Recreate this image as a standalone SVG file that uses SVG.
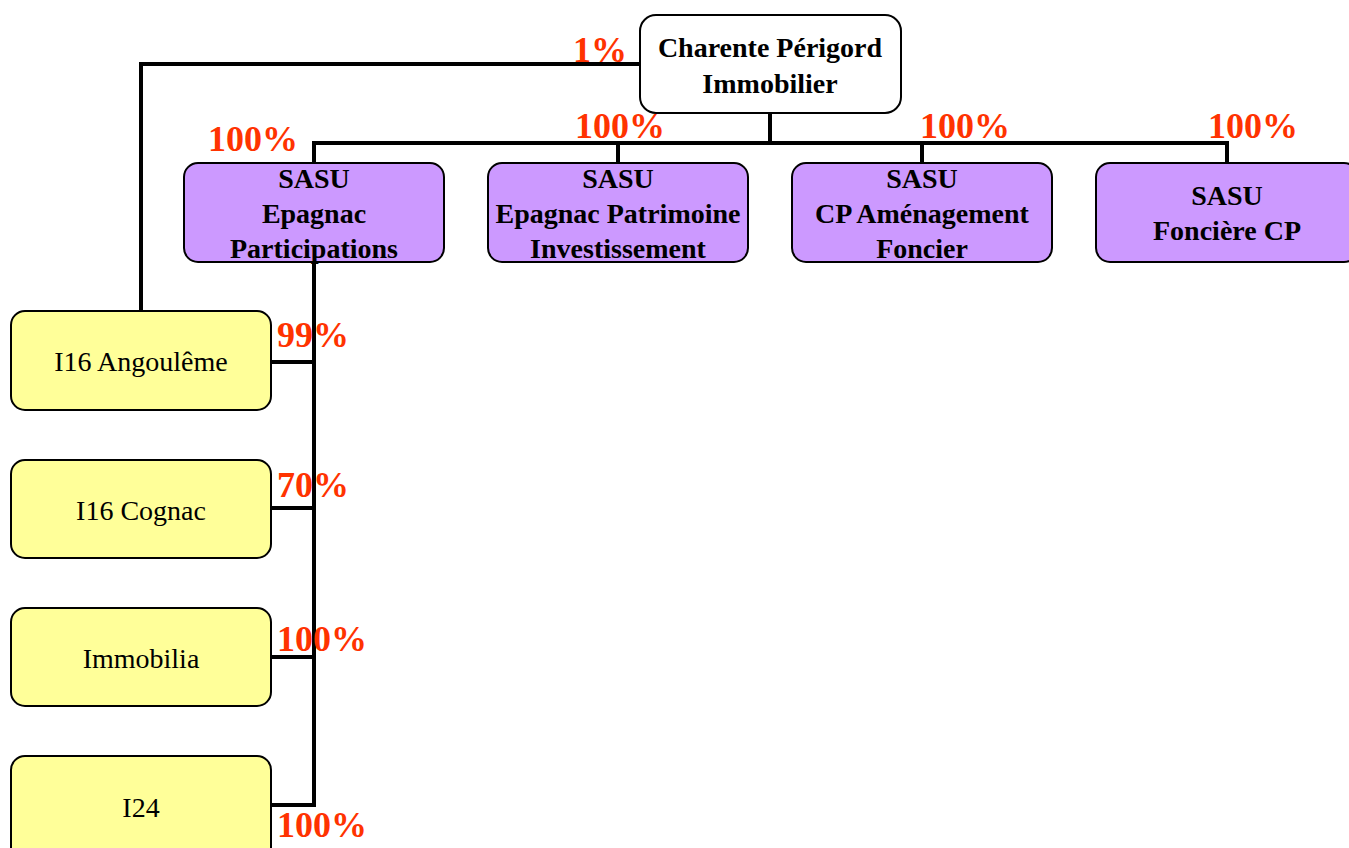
<svg xmlns="http://www.w3.org/2000/svg" width="1349" height="848" viewBox="0 0 1349 848">
<style>
.box{stroke:#000;stroke-width:2}
.top{fill:#fff}
.pur{fill:#CC99FF}
.yel{fill:#FFFF99}
.t{font-family:"Liberation Serif",serif;font-size:28px;fill:#000;text-anchor:middle}
.b{font-weight:bold}
.pct{font-family:"Liberation Serif",serif;font-size:36px;font-weight:bold;fill:#FF3300}
.c{fill:none;stroke:#000;stroke-width:4}
</style>
<rect width="1349" height="848" fill="#fff"/>
<g id="connectors">
<polyline class="c" points="640,64 141,64 141,311"/>
<line class="c" x1="770" y1="113" x2="770" y2="143"/>
<line class="c" x1="312" y1="143" x2="1229" y2="143"/>
<line class="c" x1="314" y1="143" x2="314" y2="163"/>
<line class="c" x1="618" y1="143" x2="618" y2="163"/>
<line class="c" x1="922" y1="143" x2="922" y2="163"/>
<line class="c" x1="1227" y1="143" x2="1227" y2="163"/>
<polyline class="c" points="314,262 314,805 271,805"/>
<line class="c" x1="271" y1="362" x2="314" y2="362"/>
<line class="c" x1="271" y1="508" x2="314" y2="508"/>
<line class="c" x1="271" y1="657" x2="314" y2="657"/>
</g>
<g id="cpi">
<rect class="box top" x="640" y="15" width="261" height="98" rx="16"/>
<text class="t b" x="770" y="57">Charente Périgord</text>
<text class="t b" x="770" y="93">Immobilier</text>
</g>
<g id="sasu-epagnac-participations">
<rect class="box pur" x="184" y="163" width="260" height="99" rx="14"/>
<text class="t b" x="314" y="188">SASU</text>
<text class="t b" x="314" y="223">Epagnac</text>
<text class="t b" x="314" y="258">Participations</text>
</g>
<g id="sasu-epagnac-patrimoine">
<rect class="box pur" x="488" y="163" width="260" height="99" rx="14"/>
<text class="t b" x="618" y="188">SASU</text>
<text class="t b" x="618" y="223">Epagnac Patrimoine</text>
<text class="t b" x="618" y="258">Investissement</text>
</g>
<g id="sasu-cp-amenagement">
<rect class="box pur" x="792" y="163" width="260" height="99" rx="14"/>
<text class="t b" x="922" y="188">SASU</text>
<text class="t b" x="922" y="223">CP Aménagement</text>
<text class="t b" x="922" y="258">Foncier</text>
</g>
<g id="sasu-fonciere-cp">
<rect class="box pur" x="1096" y="163" width="262" height="99" rx="14"/>
<text class="t b" x="1227" y="205">SASU</text>
<text class="t b" x="1227" y="240">Foncière CP</text>
</g>
<g id="i16-angouleme">
<rect class="box yel" x="11" y="311" width="260" height="99" rx="14"/>
<text class="t" x="141" y="371">I16 Angoulême</text>
</g>
<g id="i16-cognac">
<rect class="box yel" x="11" y="460" width="260" height="98" rx="14"/>
<text class="t" x="141" y="520">I16 Cognac</text>
</g>
<g id="immobilia">
<rect class="box yel" x="11" y="608" width="260" height="98" rx="14"/>
<text class="t" x="141" y="668">Immobilia</text>
</g>
<g id="i24">
<rect class="box yel" x="11" y="756" width="260" height="110" rx="14"/>
<text class="t" x="141" y="817">I24</text>
</g>
<g id="labels">
<text class="pct" x="573" y="62">1%</text>
<text class="pct" x="208" y="151">100%</text>
<text class="pct" x="575" y="138">100%</text>
<text class="pct" x="920" y="138">100%</text>
<text class="pct" x="1208" y="138">100%</text>
<text class="pct" x="277" y="347">99%</text>
<text class="pct" x="277" y="497">70%</text>
<text class="pct" x="277" y="651">100%</text>
<text class="pct" x="277" y="837">100%</text>
</g>
</svg>
